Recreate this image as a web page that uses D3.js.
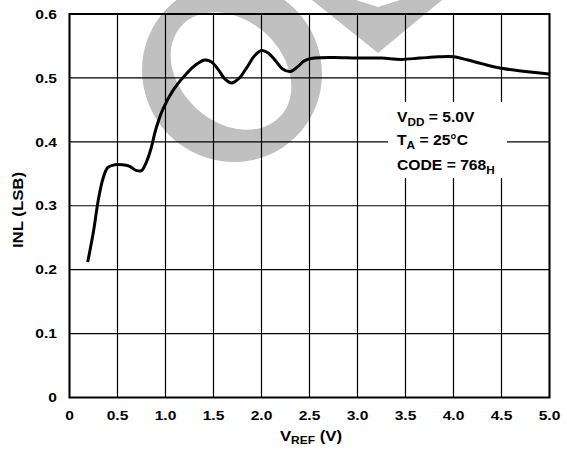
<!DOCTYPE html>
<html><head><meta charset="utf-8">
<script src="https://cdn.jsdelivr.net/npm/d3@7"></script>
<style>
body{margin:0;background:#fff;}
text{font-family:"Liberation Sans",Arial,sans-serif;font-weight:bold;fill:#000;}
</style></head>
<body><svg id="c" width="567" height="452"></svg>
<script>
const vref = [0.19,0.25,0.30,0.35,0.40,0.47,0.55,0.62,0.70,0.75,0.80,0.85,0.90,0.97,1.08,1.22,1.33,1.41,1.48,1.55,1.62,1.69,1.77,1.85,1.93,2.00,2.07,2.14,2.22,2.30,2.38,2.45,2.55,2.75,3.00,3.25,3.45,3.65,3.85,4.00,4.15,4.30,4.50,4.75,5.00];
const inl  = [0.212,0.26,0.309,0.343,0.360,0.364,0.364,0.362,0.355,0.355,0.368,0.390,0.420,0.450,0.481,0.507,0.522,0.528,0.525,0.513,0.498,0.492,0.500,0.517,0.535,0.543,0.539,0.528,0.514,0.510,0.518,0.527,0.531,0.532,0.531,0.531,0.529,0.531,0.533,0.533,0.528,0.522,0.515,0.510,0.506];
const xTicks = [0,0.5,1.0,1.5,2.0,2.5,3.0,3.5,4.0,4.5,5.0];
const xTickLabels = ["0","0.5","1.0","1.5","2.0","2.5","3.0","3.5","4.0","4.5","5.0"];
const yTicks = [0,0.1,0.2,0.3,0.4,0.5,0.6];
const yTickLabels = ["0","0.1","0.2","0.3","0.4","0.5","0.6"];

const svg = d3.select("#c");
const L=69.5, R=549.5, T=14, B=397.5;
const x = d3.scaleLinear().domain([0,5]).range([L,R]);
const y = d3.scaleLinear().domain([0,0.6]).range([B,T]);
const SX = 1.2;

// watermark
const wm = svg.append("g");
wm.append("ellipse").attr("cx",232).attr("cy",72).attr("rx",91).attr("ry",89)
  .attr("transform","rotate(45,232,72)").attr("fill","#c0c0c0");
wm.append("ellipse").attr("cx",231).attr("cy",71).attr("rx",67).attr("ry",51)
  .attr("transform","rotate(42,231,71)").attr("fill","#fff");
wm.append("path").attr("d","M312,0 L378,53 L442,0 L400,0 L378,7 L356,0 Z").attr("fill","#c0c0c0");

// grid
const g = svg.append("g");
g.selectAll("line.v").data(xTicks).join("line")
  .attr("x1",d=>x(d)).attr("x2",d=>x(d)).attr("y1",T).attr("y2",B)
  .attr("stroke","#000").attr("stroke-width",1.2);
g.selectAll("line.h").data(yTicks).join("line")
  .attr("y1",d=>y(d)).attr("y2",d=>y(d)).attr("x1",L).attr("x2",R)
  .attr("stroke","#000").attr("stroke-width",1.2);

// annotation box background
svg.append("rect").attr("x",388).attr("y",102).attr("width",119).attr("height",76).attr("fill","#fff");

// frame
svg.append("rect").attr("x",L).attr("y",T).attr("width",R-L).attr("height",B-T)
  .attr("fill","none").attr("stroke","#000").attr("stroke-width",2);

// curve
const pts = vref.map((v,i)=>[v,inl[i]]);
svg.append("path").datum(pts)
  .attr("d",d3.line().x(d=>x(d[0])).y(d=>y(d[1])).curve(d3.curveCatmullRom.alpha(0.5)))
  .attr("fill","none").attr("stroke","#000").attr("stroke-width",3).attr("stroke-linejoin","round");

// tick labels
svg.selectAll("text.xt").data(xTicks).join("text")
  .attr("transform",d=>`translate(${x(d)},420) scale(${SX},1)`).attr("text-anchor","middle")
  .attr("font-size","13px").text((d,i)=>xTickLabels[i]);
svg.selectAll("text.yt").data(yTicks).join("text")
  .attr("transform",d=>`translate(57,${y(d)+4.7}) scale(${SX},1)`).attr("text-anchor","end")
  .attr("font-size","13px").text((d,i)=>yTickLabels[i]);

// axis titles
const xt = svg.append("text").attr("transform",`translate(311,441) scale(${SX},1)`).attr("text-anchor","middle").attr("font-size","14px");
xt.append("tspan").text("V");
xt.append("tspan").attr("font-size","10px").attr("dy",3).text("REF");
xt.append("tspan").attr("dy",-3).text(" (V)");
svg.append("text").attr("transform",`translate(22.5,210) rotate(-90) scale(${SX},1)`).attr("text-anchor","middle")
  .attr("font-size","14px").text("INL (LSB)");

// annotation
function ann(yb, main, sub, rest){
  const t = svg.append("text").attr("transform",`translate(397,${yb}) scale(1.12,1)`).attr("font-size","14px");
  t.append("tspan").text(main);
  if(sub){
    t.append("tspan").attr("font-size","10.5px").attr("dy",4).text(sub);
    if(rest) t.append("tspan").attr("dy",-4).text(rest);
  }
}
ann(122,"V","DD"," = 5.0V");
ann(145,"T","A"," = 25°C");
ann(170,"CODE = 768","H",null);
</script></body></html>
